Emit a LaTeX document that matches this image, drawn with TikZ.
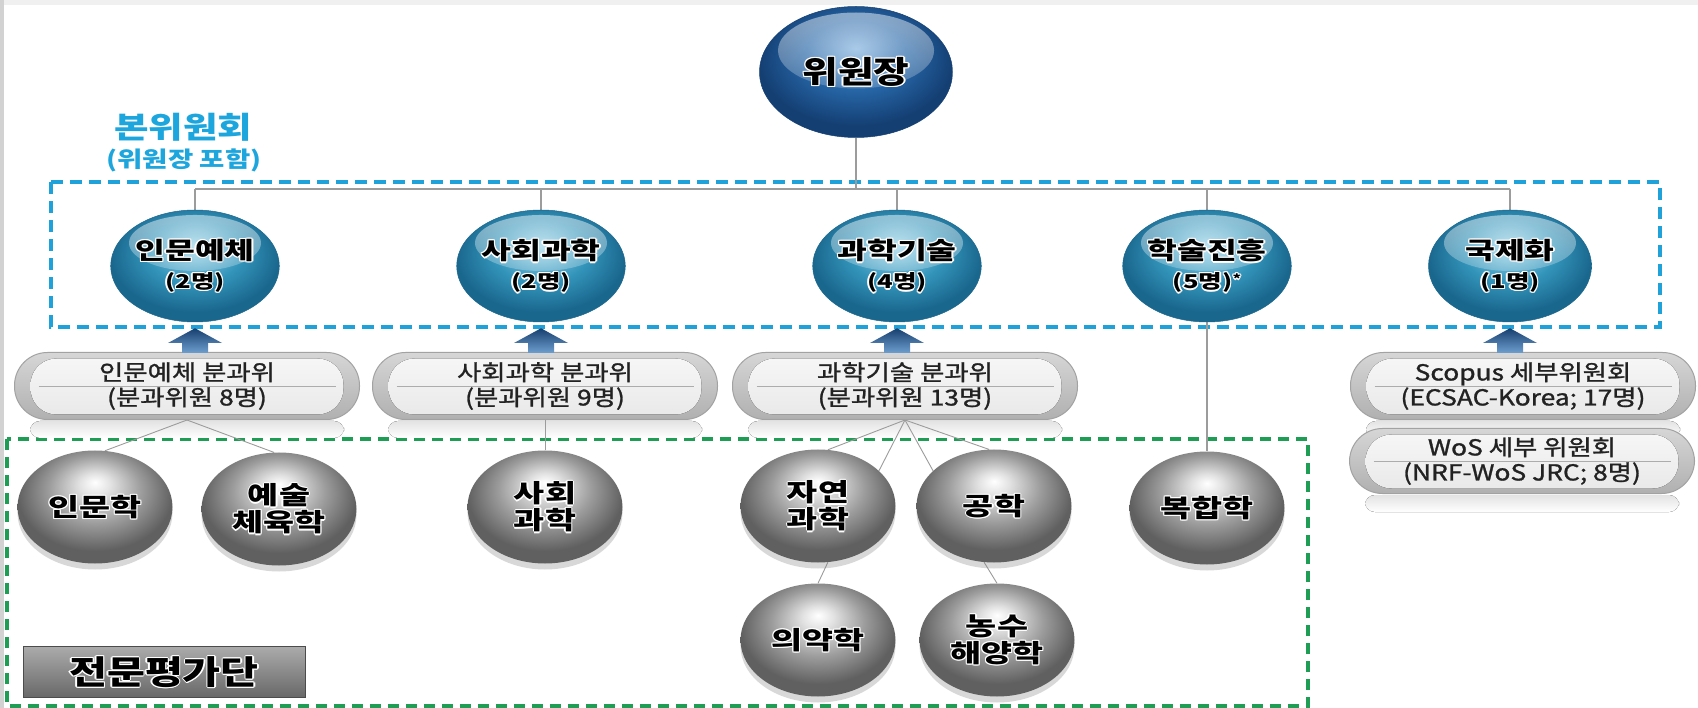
\documentclass[tikz,border=0pt]{standalone}
\usepackage{fontspec}
\newfontfamily\krA{Noto Sans CJK KR}[FakeStretch=1.35]
\newfontfamily\krB{Noto Sans CJK KR}[FakeStretch=1.25]
\newfontfamily\krM{Noto Sans CJK KR}[FakeStretch=1.2, FakeBold=1.2]
\usetikzlibrary{shapes.geometric,calc,fadings,shadows}
\pgfdeclarelayer{back}
\pgfdeclarelayer{bg}
\pgfsetlayers{back,bg,main}

\definecolor{chairL}{HTML}{7FB0DE}
\definecolor{chairM}{HTML}{2767A8}
\definecolor{chairD}{HTML}{143F73}
\definecolor{tealL}{HTML}{9AD5EA}
\definecolor{tealM}{HTML}{3394BA}
\definecolor{tealD}{HTML}{1A678E}
\definecolor{grayL}{HTML}{E2E2E2}
\definecolor{grayM}{HTML}{9C9C9C}
\definecolor{grayD}{HTML}{606060}
\definecolor{dashblue}{HTML}{1FA2D9}
\definecolor{dashgreen}{HTML}{1E9E55}
\definecolor{titleblue}{HTML}{1DA6DD}
\definecolor{treegray}{HTML}{9C9C9C}
\definecolor{pillT}{HTML}{D6D6D6}
\definecolor{pillB}{HTML}{B0B0B0}
\definecolor{pillrim}{HTML}{A2A2A2}
\definecolor{pilltext}{HTML}{222222}
\definecolor{arrowT}{HTML}{173F6E}
\definecolor{arrowB}{HTML}{6E9FCF}
\definecolor{boxT}{HTML}{ABABAB}
\definecolor{boxB}{HTML}{686868}

\pgfdeclareradialshading{chairsh}{\pgfpoint{0bp}{9bp}}{color(0bp)=(chairL); color(13bp)=(chairM); color(25bp)=(chairD); color(50bp)=(chairD)}
\pgfdeclareradialshading{tealsh}{\pgfpoint{0bp}{9bp}}{color(0bp)=(tealL); color(14bp)=(tealM); color(25bp)=(tealD); color(50bp)=(tealD)}
\pgfdeclareradialshading{graysh}{\pgfpoint{0bp}{11bp}}{color(0bp)=(white); color(5bp)=(grayL); color(15bp)=(grayM); color(25bp)=(grayD); color(50bp)=(grayD)}

\newbox\halobox
\newcommand\hcopy[2]{\rlap{\kern#1\raisebox{#2}{\textcolor{white}{\copy\halobox}}}}
\newcommand\halo[1]{\setbox\halobox\hbox{#1}\mbox{\hcopy{1.3pt}{0pt}\hcopy{-1.3pt}{0pt}\hcopy{0pt}{1.3pt}\hcopy{0pt}{-1.3pt}\hcopy{0.9pt}{0.9pt}\hcopy{-0.9pt}{0.9pt}\hcopy{0.9pt}{-0.9pt}\hcopy{-0.9pt}{-0.9pt}\copy\halobox}}
\newcommand\sm{\fontsize{19}{22}\selectfont}

\newcommand\bluearrow[2]{\shade[top color=arrowT, bottom color=arrowB]
  ($(#2.south |- #1.north)+(-13,1)$) -- ($(#2.south |- #1.north)+(-13,-9)$) --
  ($(#2.south |- #1.north)+(-27,-9)$) -- ($(#2.south)+(0,6)$) --
  ($(#2.south |- #1.north)+(27,-9)$) -- ($(#2.south |- #1.north)+(13,-9)$) --
  ($(#2.south |- #1.north)+(13,1)$) -- cycle;}

\tikzset{
  ballbase/.style={ellipse, inner sep=0pt, align=center, text=black},
  chairball/.style={ballbase, minimum width=193pt, minimum height=131pt,
    shading=chairsh, draw=chairD, line width=0.5pt,
    font=\krB\bfseries\fontsize{31}{36}\selectfont,
    path picture={\fill[white, fill opacity=0.5, path fading=south]
      ([yshift=-44pt]path picture bounding box.north) ellipse [x radius=78pt, y radius=38pt];}},
  tealball/.style={ballbase, minimum width=163pt, minimum height=112pt,
    shading=tealsh, draw=tealD, line width=0.5pt,
    font=\krA\bfseries\fontsize{24}{29}\selectfont,
    path picture={\fill[white, fill opacity=0.5, path fading=south]
      ([yshift=-33pt]path picture bounding box.north) ellipse [x radius=66pt, y radius=28pt];}},
  grayball/.style={ballbase, minimum width=155pt, minimum height=113pt,
    shading=graysh, drop shadow={opacity=0.3, shadow xshift=0pt, shadow yshift=-6pt},
    font=\krA\bfseries\fontsize{25}{27}\selectfont},
  pill/.style={rectangle, rounded corners=33pt, minimum width=345pt, minimum height=67pt,
    inner sep=0pt, align=center, draw=pillrim, line width=1pt,
    top color=pillT, bottom color=pillB, text=pilltext,
    font=\krM\fontsize{22}{25}\selectfont,
    path picture={\fill[rounded corners=26pt, top color=gray!6, bottom color=gray!18]
      ([shift={(16pt,-6pt)}]path picture bounding box.north west) rectangle
      ([shift={(-16pt,5pt)}]path picture bounding box.south east);
      \draw[sharp corners, gray!65, line width=0.8pt]
      ([xshift=24pt]path picture bounding box.west) -- ([xshift=-24pt]path picture bounding box.east);}},
  reflect/.style={top color=gray!22, bottom color=white, rounded corners=10pt},
  tree/.style={draw=treegray, line width=2pt},
  thinline/.style={draw=treegray, line width=1.3pt},
  fan/.style={draw=treegray, line width=0.9pt},
  expertbox/.style={rectangle, minimum width=282pt, minimum height=51pt, inner sep=0pt,
    draw=gray!60!black, line width=0.8pt, top color=boxT, bottom color=boxB, text=black,
    font=\krB\bfseries\fontsize{33}{36}\selectfont},
  titletext/.style={text=titleblue, inner sep=0pt}
}

\begin{document}
\begin{tikzpicture}[x=1pt,y=-1pt]
\useasboundingbox (0,0) rectangle (1698,708);
\begin{pgfonlayer}{back}
\fill[gray!12] (0,0) rectangle (1698,708);
\fill[gray!35] (0,0) rectangle (4,708);
\fill[white] (4,5) rectangle (1698,708);
\end{pgfonlayer}

% titles
\node[titletext, font=\krB\bfseries\fontsize{30}{32}\selectfont] (title) at (183,127) {본위원회};
\node[titletext, font=\krB\bfseries\fontsize{22}{24}\selectfont] (subtitle) at (184,160) {(위원장 포함)};

% chair
\node[chairball] (chair) at (856,72) {\halo{위원장}};
\coordinate (bus) at (856,189);

% level 2
\node[tealball] (s1) at (195,266) {\halo{인문예체}\\\halo{\sm (2명)}};
\node[tealball] (s2) at (541,266) {\halo{사회과학}\\\halo{\sm (2명)}};
\node[tealball] (s3) at (897,266) {\halo{과학기술}\\\halo{\sm (4명)}};
\node[tealball] (s4) at (1207,266) {\halo{학술진흥}\\\halo{\sm (5명)\raisebox{5pt}{\fontsize{12}{12}\selectfont *}}};
\node[tealball] (s5) at (1510,266) {\halo{국제화}\\\halo{\sm (1명)}};

% pills
\node[pill] (p1) at (187,386) {인문예체 분과위\\(분과위원 8명)};
\node[pill] (p2) at (545,386) {사회과학 분과위\\(분과위원 9명)};
\node[pill] (p3) at (905,386) {과학기술 분과위\\(분과위원 13명)};
\node[pill] (p4) at (1523,386) {Scopus 세부위원회\\(ECSAC-Korea; 17명)};
\node[pill, minimum height=65pt] (p5) at (1522,461) {WoS 세부 위원회\\(NRF-WoS JRC; 8명)};

% gray spheres
\node[grayball] (g1) at (95,507) {\halo{인문학}};
\node[grayball] (g2) at (279,509) {\halo{예술}\\\halo{체육학}};
\node[grayball] (g3) at (545,507) {\halo{사회}\\\halo{과학}};
\node[grayball] (g4) at (818,506) {\halo{자연}\\\halo{과학}};
\node[grayball] (g5) at (994,506) {\halo{공학}};
\node[grayball] (g6) at (1207,508) {\halo{복합학}};
\node[grayball] (g7) at (818,640) {\halo{의약학}};
\node[grayball] (g8) at (997,640) {\halo{농수}\\\halo{해양학}};

% expert group label
\node[expertbox] (ex) at (164,672) {\halo{전문평가단}};

% arrows
\bluearrow{p1}{s1}
\bluearrow{p2}{s2}
\bluearrow{p3}{s3}
\bluearrow{p4}{s5}

\begin{pgfonlayer}{bg}
  \draw[dashblue, line width=3.4pt, dash pattern=on 12pt off 7pt] (51,182) rectangle (1660,327);
  \draw[dashgreen, line width=3.2pt, dash pattern=on 11pt off 7pt] (7,439) rectangle (1308,706);
  \foreach \p in {p1,p2,p3,p4,p5}
    \fill[reflect] ($(\p.south west)+(16,1)$) rectangle ($(\p.south east)+(-16,18)$);
  \draw[tree] (chair.south) -- (bus);
  \draw[tree] (s1.north |- bus) -- (s5.north |- bus);
  \foreach \s in {s1,s2,s3,s4,s5}
    \draw[tree] (\s.north |- bus) -- (\s.north);
  \draw[thinline] (s4.south) -- (g6.north);
  \draw[fan] (p1.south) -- (g1.80);
  \draw[fan] (p1.south) -- (g2.95);
  \draw[fan] (p2.south) -- (g3.north);
  \draw[fan] (p3.south) -- (g4.80);
  \draw[fan] (p3.south) -- (g4.30);
  \draw[fan] (p3.south) -- (g5.150);
  \draw[fan] (p3.south) -- (g5.95);
  \draw[fan] (g4.280) -- (g7.north);
  \draw[fan] (g5.260) -- (g8.north);
\end{pgfonlayer}
\end{tikzpicture}
\end{document}
